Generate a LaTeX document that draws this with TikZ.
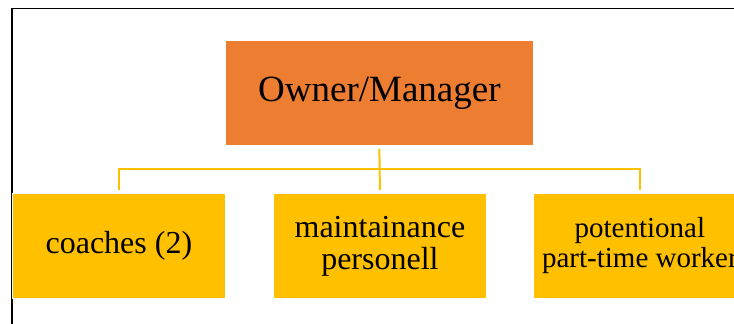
\documentclass[tikz,border=0pt]{standalone}
\usepackage{fontspec}
\setmainfont{Liberation Serif}
\definecolor{orgfill}{HTML}{ED7D31}
\definecolor{yelfill}{HTML}{FFC000}
\begin{document}
\begin{tikzpicture}[x=1pt,y=1pt,
  topbox/.style={fill=orgfill,draw=white,line width=0.8pt,minimum width=308pt,minimum height=105pt,inner sep=0pt,font=\fontsize{37}{37}\selectfont,anchor=north west},
  subbox/.style={fill=yelfill,draw=white,line width=0.8pt,minimum width=213pt,minimum height=105pt,inner sep=0pt,align=center,font=\fontsize{32}{32}\selectfont,anchor=north west},
  conn/.style={draw=yelfill,line width=2pt}]
\useasboundingbox (0,0) rectangle (734,-324);
\clip (0,0) rectangle (734,-324);
\fill[white] (0,0) rectangle (734,-324);
\draw[line width=1.8pt,black] (12,-340) -- (12,-8.5) -- (760,-8.5);
\node[topbox] (own) at (225,-40) {Owner/Manager};
\node[subbox] (c1) at (12,-193) {coaches (2)};
\node[subbox] (c2) at (273,-193) {maintainance\\personell};
\node[subbox,font=\fontsize{29}{30}\selectfont] (c3) at (533,-193) {potentional\\part-time worker};
\coordinate (bus) at (0,-169);
\draw[conn] ([yshift=-3pt]own.south) -- ([yshift=3pt]c2.north);
\draw[conn] ([yshift=3pt]c1.north) |- (bus -| own.south) -| ([yshift=3pt]c3.north);
\end{tikzpicture}
\end{document}
